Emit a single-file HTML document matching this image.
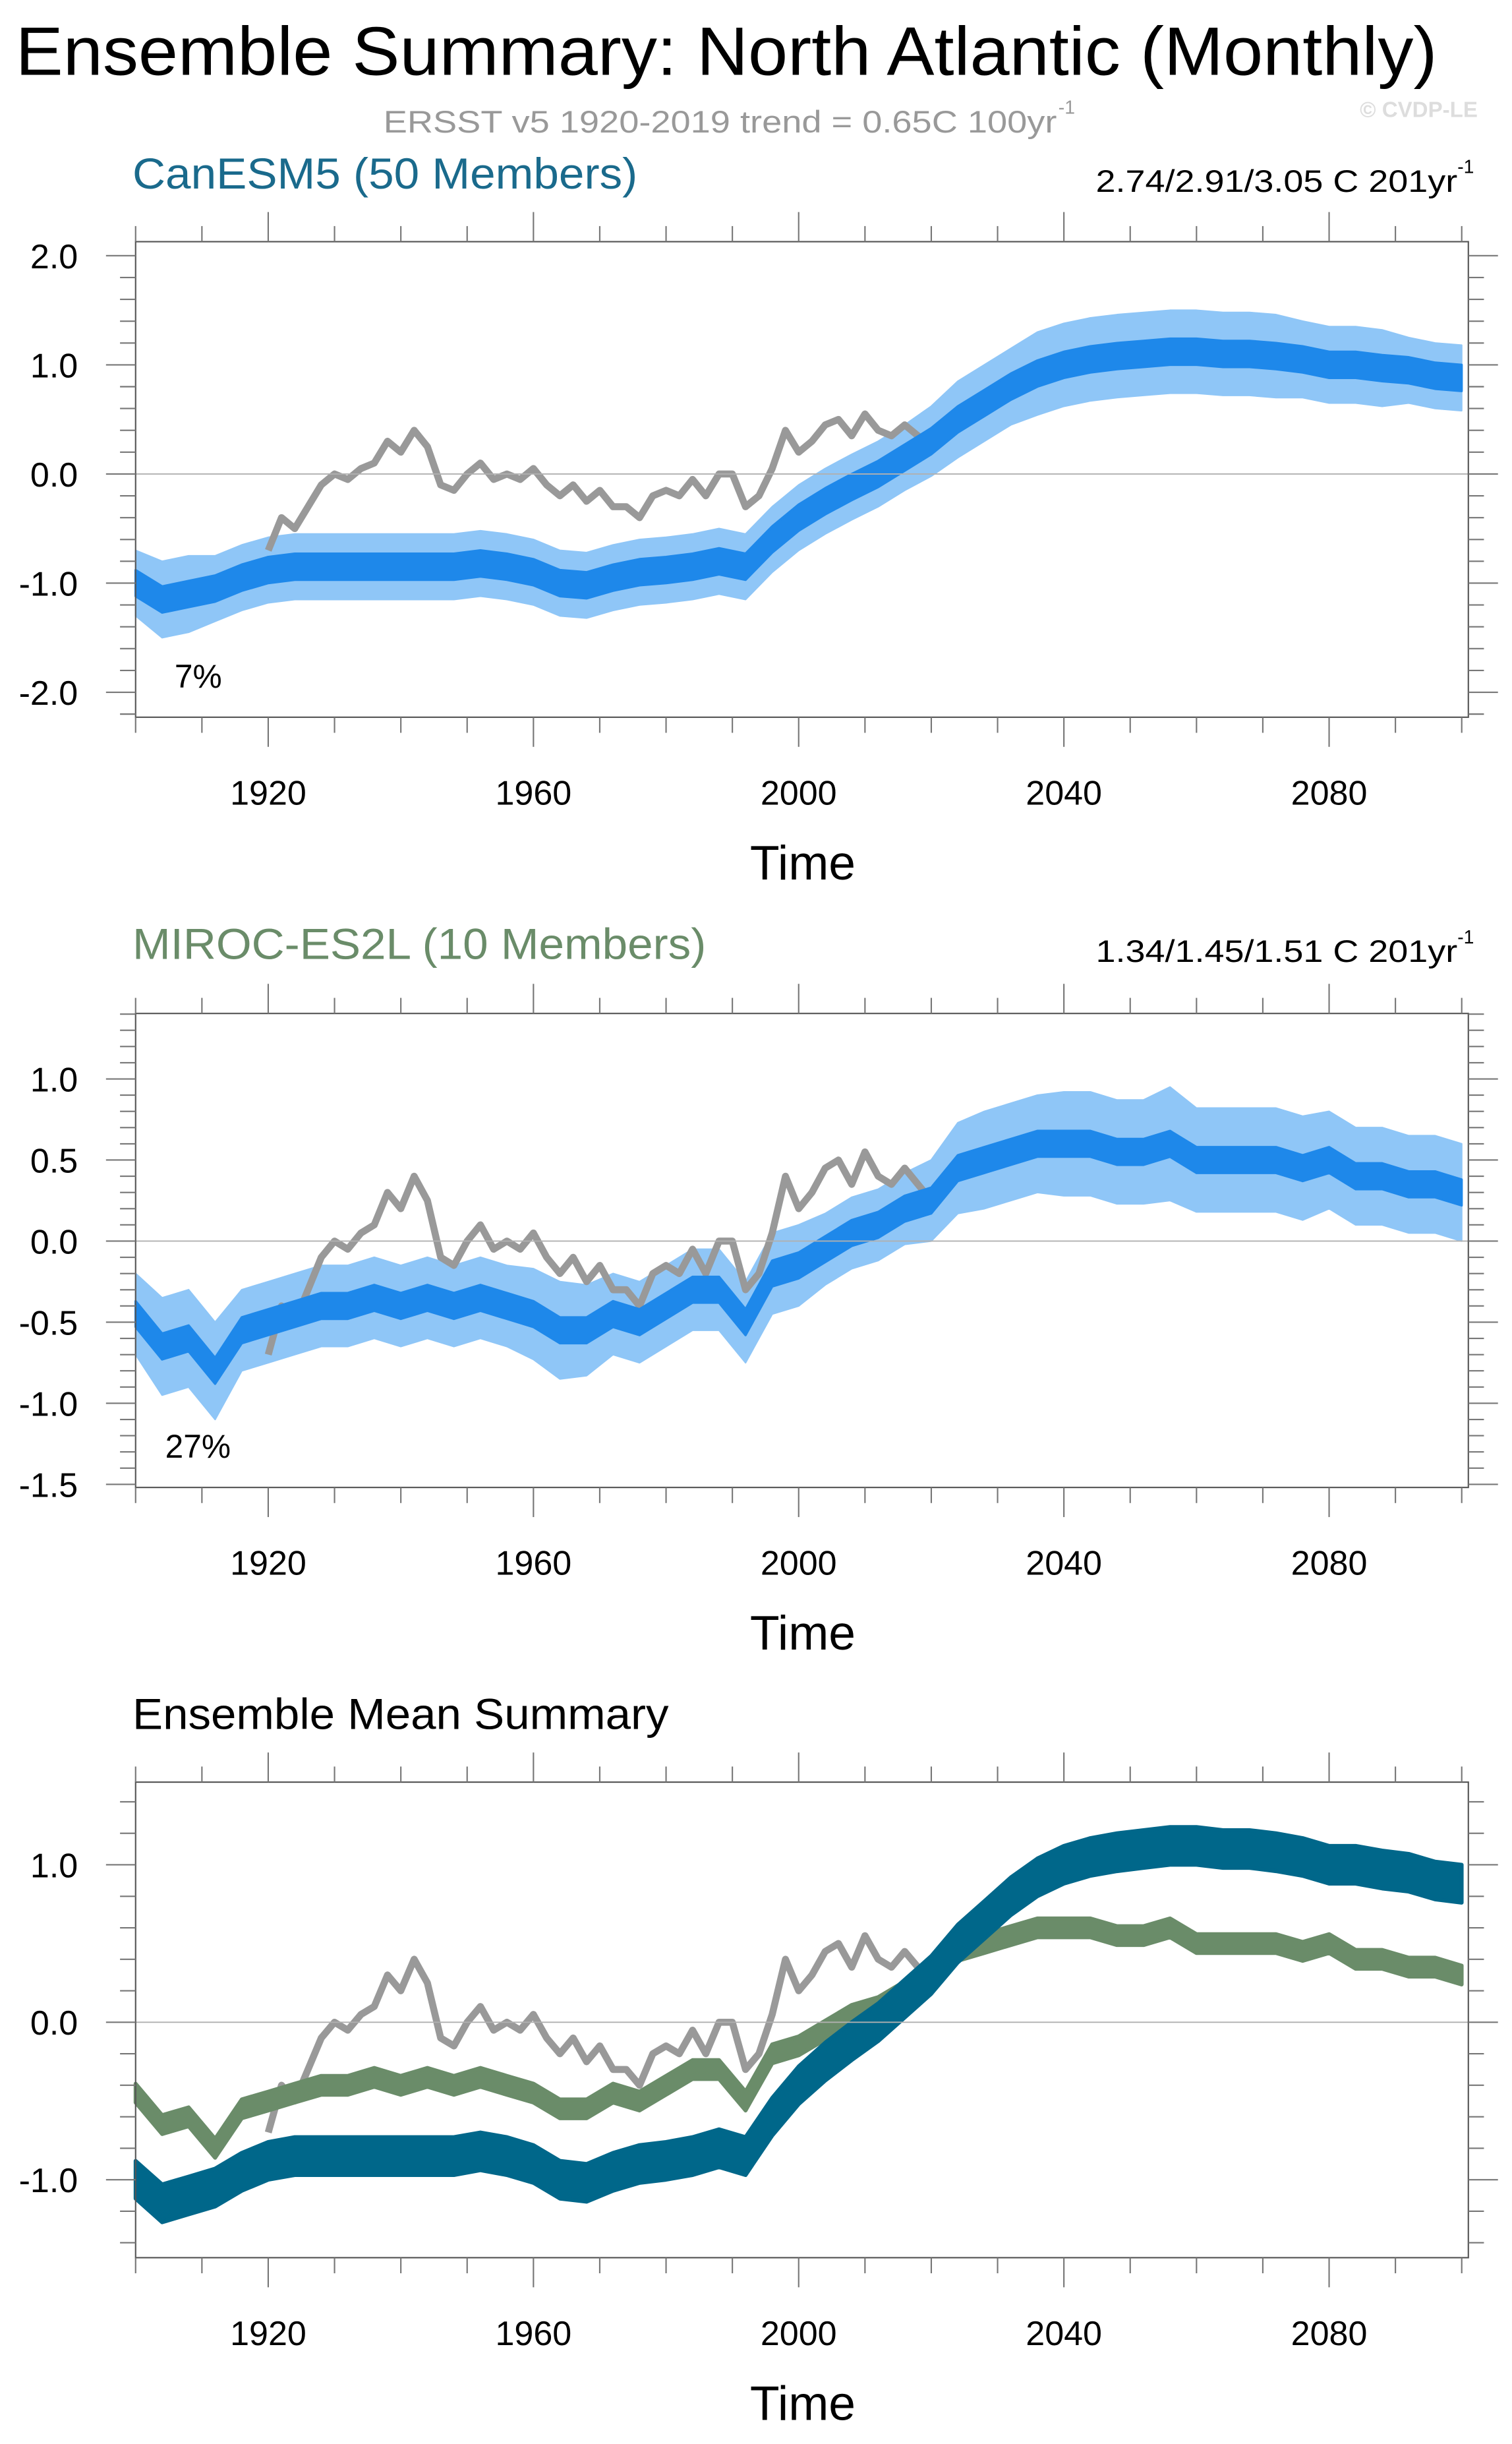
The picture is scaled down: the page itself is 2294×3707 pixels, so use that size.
<!DOCTYPE html>
<html><head><meta charset="utf-8"><style>
html,body{margin:0;padding:0;background:#fff;}
svg{display:block;font-family:"Liberation Sans",Arial,sans-serif;}
</style></head><body>
<svg id="fig" xmlns="http://www.w3.org/2000/svg" width="2294" height="3707" viewBox="0 0 970 1567.5" preserveAspectRatio="none">
<text x="10" y="48" font-size="44" textLength="912" lengthAdjust="spacingAndGlyphs">Ensemble Summary: North Atlantic (Monthly)</text>
<text x="246" y="85" font-size="20" fill="#999" textLength="432" lengthAdjust="spacingAndGlyphs">ERSST v5 1920-2019 trend = 0.65C 100yr</text>
<text x="679" y="73" font-size="12" fill="#999">-1</text>
<text x="948" y="75" font-size="14" fill="#ddd" text-anchor="end" font-weight="bold">© CVDP-LE</text>

<text x="85" y="121" font-size="28" fill="#1a6a8c" textLength="324" lengthAdjust="spacingAndGlyphs">CanESM5 (50 Members)</text>
<text x="703" y="123" font-size="20" textLength="232" lengthAdjust="spacingAndGlyphs">2.74/2.91/3.05 C 201yr</text>
<text x="935" y="111" font-size="12">-1</text>
<text x="112" y="441" font-size="21">7%</text>

<text x="85" y="615" font-size="28" fill="#6a8c69" textLength="368" lengthAdjust="spacingAndGlyphs">MIROC-ES2L (10 Members)</text>
<text x="703" y="617" font-size="20" textLength="232" lengthAdjust="spacingAndGlyphs">1.34/1.45/1.51 C 201yr</text>
<text x="935" y="605" font-size="12">-1</text>
<text x="106" y="935" font-size="21">27%</text>

<text x="85" y="1109" font-size="28" textLength="344" lengthAdjust="spacingAndGlyphs">Ensemble Mean Summary</text>
<g id="plots"></g>
</svg>
<script>
// ---- data (anomalies, degC) ----
const years = [1900,1904,1908,1912,1916,1920,1924,1928,1932,1936,1940,1944,1948,1952,1956,1960,1964,1968,1972,1976,1980,1984,1988,1992,1996,2000,2004,2008,2012,2016,2020,2024,2028,2032,2036,2040,2044,2048,2052,2056,2060,2064,2068,2072,2076,2080,2084,2088,2092,2096,2100];
const canMean = [-1.0,-1.15,-1.1,-1.05,-0.95,-0.88,-0.85,-0.85,-0.85,-0.85,-0.85,-0.85,-0.85,-0.82,-0.85,-0.9,-1.0,-1.02,-0.95,-0.9,-0.88,-0.85,-0.8,-0.85,-0.6,-0.4,-0.25,-0.12,0.0,0.15,0.3,0.5,0.65,0.8,0.92,1.0,1.05,1.08,1.1,1.12,1.12,1.1,1.1,1.08,1.05,1.0,1.0,0.97,0.95,0.9,0.88];
const canSpread = [0.3,0.35,0.35,0.3,0.3,0.3,0.3,0.3,0.3,0.3,0.3,0.3,0.3,0.3,0.3,0.3,0.3,0.3,0.3,0.3,0.3,0.3,0.3,0.3,0.3,0.3,0.3,0.3,0.3,0.3,0.32,0.35,0.35,0.35,0.38,0.38,0.38,0.38,0.38,0.38,0.38,0.38,0.38,0.38,0.35,0.35,0.35,0.35,0.3,0.3,0.3];
const mirMean = [-0.45,-0.65,-0.6,-0.8,-0.55,-0.5,-0.45,-0.4,-0.4,-0.35,-0.4,-0.35,-0.4,-0.35,-0.4,-0.45,-0.55,-0.55,-0.45,-0.5,-0.4,-0.3,-0.3,-0.5,-0.2,-0.15,-0.05,0.05,0.1,0.2,0.25,0.45,0.5,0.55,0.6,0.6,0.6,0.55,0.55,0.6,0.5,0.5,0.5,0.5,0.45,0.5,0.4,0.4,0.35,0.35,0.3];
const mirSpread = [0.25,0.3,0.3,0.3,0.25,0.25,0.25,0.25,0.25,0.25,0.25,0.25,0.25,0.25,0.25,0.28,0.3,0.28,0.25,0.25,0.25,0.25,0.25,0.25,0.25,0.25,0.22,0.22,0.22,0.22,0.25,0.28,0.3,0.3,0.3,0.32,0.32,0.32,0.32,0.35,0.32,0.32,0.32,0.32,0.32,0.3,0.3,0.3,0.3,0.3,0.3];
const obsYears = [1920,1922,1924,1926,1928,1930,1932,1934,1936,1938,1940,1942,1944,1946,1948,1950,1952,1954,1956,1958,1960,1962,1964,1966,1968,1970,1972,1974,1976,1978,1980,1982,1984,1986,1988,1990,1992,1994,1996,1998,2000,2002,2004,2006,2008,2010,2012,2014,2016,2018,2019];
const obsVals = [-0.7,-0.4,-0.5,-0.3,-0.1,0.0,-0.05,0.05,0.1,0.3,0.2,0.4,0.25,-0.1,-0.15,0.0,0.1,-0.05,0.0,-0.05,0.05,-0.1,-0.2,-0.1,-0.25,-0.15,-0.3,-0.3,-0.4,-0.2,-0.15,-0.2,-0.05,-0.2,0.0,0.0,-0.3,-0.2,0.05,0.4,0.2,0.3,0.45,0.5,0.35,0.55,0.4,0.35,0.45,0.35,0.3];
const xTicks = [1920,1960,2000,2040,2080];
const yTicks1 = [-2.0,-1.0,0.0,1.0,2.0];
const yTicks2 = [-1.5,-1.0,-0.5,0.0,0.5,1.0];
const yTicks3 = [-1.0,0.0,1.0];

const NS = "http://www.w3.org/2000/svg";
const root = document.getElementById('plots');
const X0 = 87, X1 = 942, YR0 = 1900, YR1 = 2101;
function xs(yr){ return X0 + (yr - YR0) / (YR1 - YR0) * (X1 - X0); }
function mk(tag, attrs, parent){
  const e = document.createElementNS(NS, tag);
  for (const k in attrs) e.setAttribute(k, attrs[k]);
  (parent || root).appendChild(e);
  return e;
}
function makeY(p){ return v => p.top + (p.vmax - v) / (p.vmax - p.vmin) * (p.bottom - p.top); }

function axes(p, g, yTicks, fmt, minorStep){
  const ys = makeY(p);
  const zl = mk('line', {x1:X0, x2:X1, y1:ys(0), y2:ys(0), stroke:'#b0b0b0', 'stroke-width':0.8}, g);
  
  
  const box = mk('rect', {x:X0, y:p.top, width:X1-X0, height:p.bottom-p.top, fill:'none', stroke:'#555', 'stroke-width':0.9}, g);
  
  
  for (let yr = 1900; yr <= 2100; yr += 10){
    const major = xTicks.includes(yr);
    const L = major ? 19 : 10;
    const x = xs(yr);
    const t1 = mk('line', {x1:x, x2:x, y1:p.bottom, y2:p.bottom+L, stroke:'#777', 'stroke-width':0.9}, g);
    
    
    const t2 = mk('line', {x1:x, x2:x, y1:p.top, y2:p.top-L, stroke:'#777', 'stroke-width':0.9}, g);
    
    
  }
  xTicks.forEach(yr => {
    const t = mk('text', {x:xs(yr), y:p.bottom+56, 'font-size':22, 'text-anchor':'middle'}, g);
    t.textContent = yr;
    
    
  });
  const tt = mk('text', {x:515, y:p.bottom+104, 'font-size':31, 'text-anchor':'middle'}, g);
  tt.textContent = 'Time';
  
  
  const n0 = Math.ceil(p.vmin / minorStep - 1e-6), n1 = Math.floor(p.vmax / minorStep + 1e-6);
  for (let n = n0; n <= n1; n++){
    const v = n * minorStep;
    const major = yTicks.some(t => Math.abs(t - v) < 1e-6);
    const L = major ? 19 : 10;
    const y = ys(v);
    const a = mk('line', {x1:X0, x2:X0-L, y1:y, y2:y, stroke:'#777', 'stroke-width':0.9}, g);
    
    
    const b = mk('line', {x1:X1, x2:X1+L, y1:y, y2:y, stroke:'#777', 'stroke-width':0.9}, g);
    
    
  }
  yTicks.forEach(v => {
    const t = mk('text', {x:50, y:ys(v)+8, 'font-size':22, 'text-anchor':'end'}, g);
    t.textContent = v.toFixed(1);
    
    
  });
  return ys;
}
function bandPts(yrs, mean, half, ys, constHalf){
  const up = yrs.map((yr,i) => xs(yr).toFixed(1)+','+ys(mean[i] + (half ? half[i] : constHalf)).toFixed(1));
  const lo = yrs.map((yr,i) => xs(yr).toFixed(1)+','+ys(mean[i] - (half ? half[i] : constHalf)).toFixed(1)).reverse();
  return up.concat(lo).join(' ');
}
function linePts(yrs, vals, ys){ return yrs.map((yr,i) => xs(yr).toFixed(1)+','+ys(vals[i]).toFixed(1)).join(' '); }

function ensemblePanel(p, name, mean, spread, yTicks, minorStep, meanHalf){
  const g = mk('g', {});
  
  
  const ys = makeY(p);
  const spr = mk('polygon', {points:bandPts(years, mean, spread, ys), fill:'#8fc6f7', 'stroke':'#8fc6f7', 'stroke-width':1, 'stroke-linejoin':'round'}, g);
  
  
  const obs = mk('polyline', {points:linePts(obsYears, obsVals, ys), fill:'none', stroke:'#999', 'stroke-width':4.5, 'stroke-linejoin':'round'}, g);
  
  
  const mb = mk('polygon', {points:bandPts(years, mean, null, ys, meanHalf), fill:'#1e88ea', stroke:'#1e88ea', 'stroke-width':1.5, 'stroke-linejoin':'round'}, g);
  
  
  axes(p, g, yTicks, null, minorStep);
}

const P1 = {top:155, bottom:460, vmin:-2.2286, vmax:2.1286};
const P2 = {top:650, bottom:954, vmin:-1.5192, vmax:1.4038};
const P3 = {top:1143, bottom:1448, vmin:-1.495, vmax:1.525};

ensemblePanel(P1, 'canesm5', canMean, canSpread, yTicks1, 0.2, 0.12);
ensemblePanel(P2, 'miroc', mirMean, mirSpread, yTicks2, 0.1, 0.08);

(function(){
  const g = mk('g', {});
  
  
  const ys = makeY(P3);
  const obs = mk('polyline', {points:linePts(obsYears, obsVals, ys), fill:'none', stroke:'#999', 'stroke-width':4.5, 'stroke-linejoin':'round'}, g);
  
  
  const mir = mk('polygon', {points:bandPts(years, mirMean, null, ys, 0.06), fill:'#6a8c69', stroke:'#6a8c69', 'stroke-width':2.5, 'stroke-linejoin':'round'}, g);
  
  
  const can = mk('polygon', {points:bandPts(years, canMean, null, ys, 0.12), fill:'#00678a', stroke:'#00678a', 'stroke-width':2.5, 'stroke-linejoin':'round'}, g);
  
  
  axes(P3, g, yTicks3, null, 0.2);
})();
</script>
</body></html>
